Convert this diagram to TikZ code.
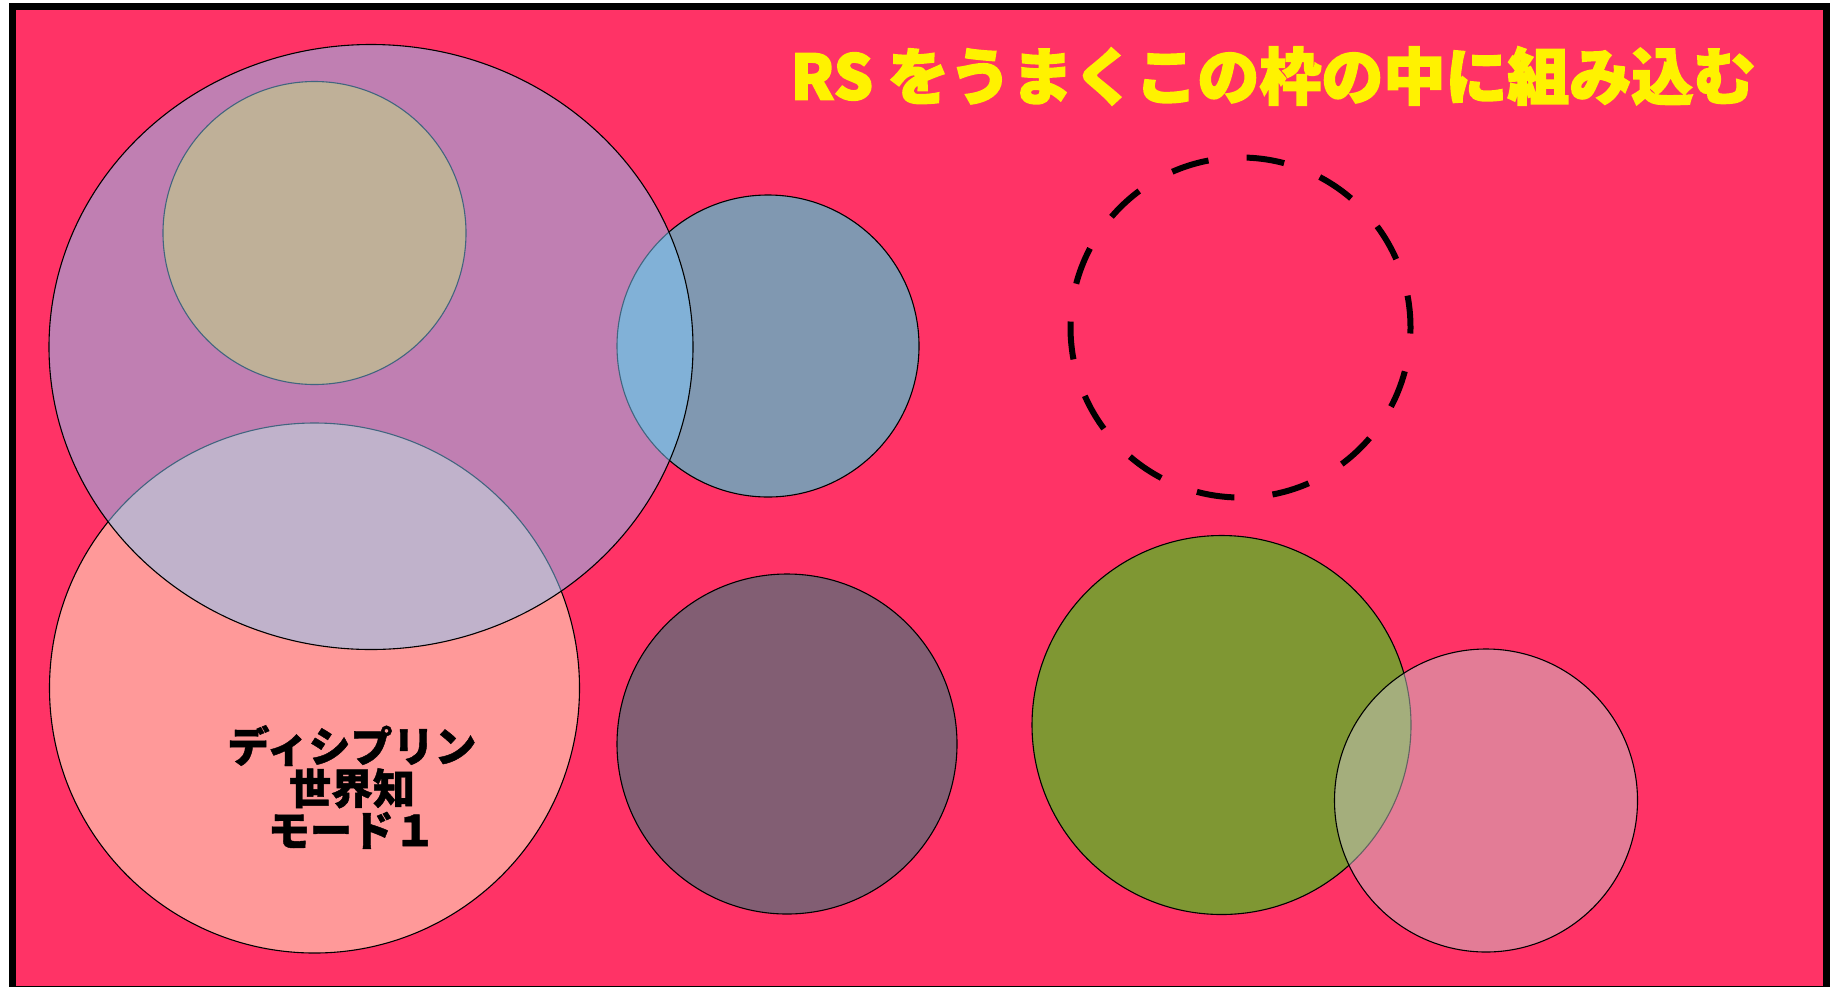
\documentclass[tikz,border=0pt]{standalone}
\usepackage{fontspec}
\newfontfamily\jpblack{Noto Sans CJK JP Black}[FakeBold=2.5]
\newfontfamily\jpbold{Noto Sans CJK JP Black}[FakeBold=1]
\definecolor{bgred}{HTML}{FF3366}
\definecolor{salmon}{HTML}{FF9999}
\definecolor{orangec}{HTML}{FD9532}
\definecolor{bluec}{HTML}{8098B1}
\definecolor{lightblue}{HTML}{83CBFE}
\definecolor{plum}{HTML}{825E73}
\definecolor{olive}{HTML}{7F9733}
\definecolor{greyc}{HTML}{C9C5C6}
\tikzset{
  disc/.style={draw=black, line width=1.1pt},
  frame/.style={draw=black, line width=7pt, fill=bgred},
  dashring/.style={draw=black, line width=6pt, dash pattern=on 38pt off 38.3pt, dash phase=32pt},
  title/.style={text=yellow, font=\jpblack\fontsize{62}{62}\selectfont, inner sep=0pt},
  label/.style={text=black, font=\jpbold\fontsize{42}{42}\selectfont, align=center, inner sep=0pt}
}
\begin{document}
\begin{tikzpicture}[x=1pt, y=-1pt]
\useasboundingbox (0,0) rectangle (1835,986);
\fill[white] (0,0) rectangle (1835,986);
\begin{scope}
\clip (0,0) rectangle (1835,986);
\path[frame] (12.5,6.5) rectangle (1826.5,989);
\end{scope}
% circles
\path[disc, fill=salmon] (314.5,688) circle [radius=265];
\path[disc, fill=orangec] (314.5,233) circle [radius=151.5];
\path[disc, fill=bluec] (768,346) circle [radius=151];
\path[disc, fill=lightblue, fill opacity=0.5] (371,347) ellipse [x radius=322, y radius=302.5];
\path[disc, fill=plum] (787,744) circle [radius=170];
\path[disc, fill=olive] (1221.5,725) circle [radius=189.5];
\path[disc, fill=greyc, fill opacity=0.5] (1486,800.5) circle [radius=151.5];
\path[dashring] (1240.5,327.5) circle [radius=170];
% texts
\node[title] (ttl) at (1273,76) {RS をうまくこの枠の中に組み込む};
\node[label] (lbl) at (352,787) {ディシプリン\\世界知\\モード１};
\end{tikzpicture}
\end{document}
